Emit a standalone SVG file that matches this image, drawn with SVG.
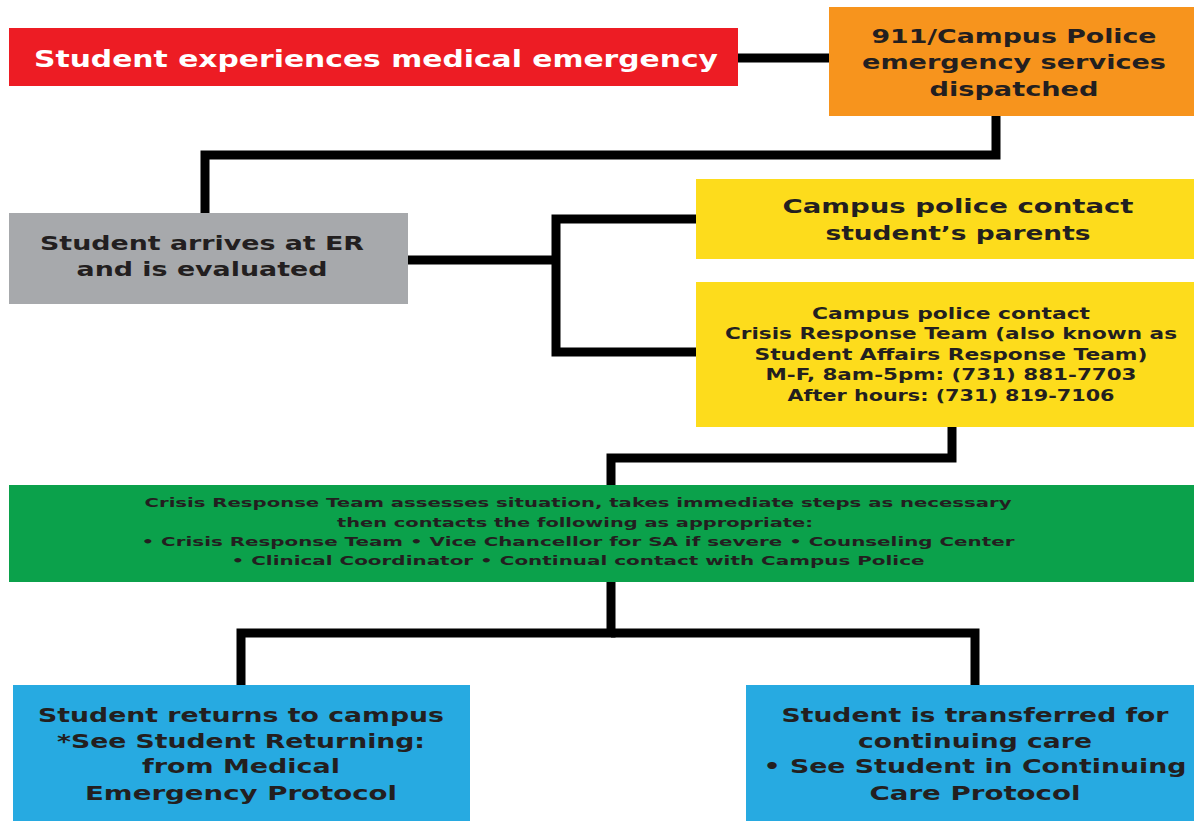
<svg xmlns="http://www.w3.org/2000/svg" width="1194" height="821" viewBox="0 0 1194 821">
<style>
.t{font-family:"DejaVu Sans","Liberation Sans",sans-serif;font-weight:bold;fill:#231F20;text-anchor:middle}
.w{fill:#FFFFFF}
.c{fill:none;stroke:#000;stroke-width:9;stroke-linejoin:miter;stroke-linecap:butt}
</style>
<rect width="1194" height="821" fill="#FFFFFF"/>
<g id="connectors">
<path class="c" d="M738,58 H829"/>
<path class="c" d="M996,116 V155 H205 V213"/>
<path class="c" d="M408,260 H556"/>
<path class="c" d="M696,219 H556 V352 H696"/>
<path class="c" d="M952,427 V458 H611 V485"/>
<path class="c" d="M611,582 V633 H241 V685"/>
<path class="c" d="M611,633 H975 V685"/>
</g>
<g id="node-emergency">
<rect x="9" y="28" width="729" height="58" fill="#ED1C24"/>
<text class="t w" x="376" y="67" font-size="23" textLength="684" lengthAdjust="spacingAndGlyphs">Student experiences medical emergency</text>
</g>
<g id="node-dispatch">
<rect x="829" y="7" width="365" height="109" fill="#F7941D"/>
<text class="t" x="1014" y="43" font-size="20" textLength="285" lengthAdjust="spacingAndGlyphs">911/Campus Police</text>
<text class="t" x="1014" y="69" font-size="20" textLength="304" lengthAdjust="spacingAndGlyphs">emergency services</text>
<text class="t" x="1014" y="96" font-size="20" textLength="169" lengthAdjust="spacingAndGlyphs">dispatched</text>
</g>
<g id="node-er">
<rect x="9" y="213" width="399" height="91" fill="#A7A9AC"/>
<text class="t" x="202" y="250" font-size="20" textLength="324" lengthAdjust="spacingAndGlyphs">Student arrives at ER</text>
<text class="t" x="202" y="276" font-size="20" textLength="251" lengthAdjust="spacingAndGlyphs">and is evaluated</text>
</g>
<g id="node-parents">
<rect x="696" y="179" width="498" height="80" fill="#FDDC1C"/>
<text class="t" x="958" y="213" font-size="20" textLength="351" lengthAdjust="spacingAndGlyphs">Campus police contact</text>
<text class="t" x="958" y="240" font-size="20" textLength="265" lengthAdjust="spacingAndGlyphs">student’s parents</text>
</g>
<g id="node-crisis-contact">
<rect x="696" y="282" width="498" height="145" fill="#FDDC1C"/>
<text class="t" x="951" y="319" font-size="15" textLength="278" lengthAdjust="spacingAndGlyphs">Campus police contact</text>
<text class="t" x="951" y="339" font-size="15" textLength="452" lengthAdjust="spacingAndGlyphs">Crisis Response Team (also known as</text>
<text class="t" x="951" y="360" font-size="15" textLength="393" lengthAdjust="spacingAndGlyphs">Student Affairs Response Team)</text>
<text class="t" x="951" y="380" font-size="15" textLength="371" lengthAdjust="spacingAndGlyphs">M-F, 8am-5pm: (731) 881-7703</text>
<text class="t" x="951" y="401" font-size="15" textLength="327" lengthAdjust="spacingAndGlyphs">After hours: (731) 819-7106</text>
</g>
<g id="node-assess">
<rect x="9" y="485" width="1185" height="97" fill="#0BA14B"/>
<text class="t" x="578" y="507" font-size="13" textLength="867" lengthAdjust="spacingAndGlyphs">Crisis Response Team assesses situation, takes immediate steps as necessary</text>
<text class="t" x="575" y="527" font-size="13" textLength="476" lengthAdjust="spacingAndGlyphs">then contacts the following as appropriate:</text>
<text class="t" x="578" y="546" font-size="13" textLength="873" lengthAdjust="spacingAndGlyphs">• Crisis Response Team • Vice Chancellor for SA if severe • Counseling Center</text>
<text class="t" x="578" y="565" font-size="13" textLength="693" lengthAdjust="spacingAndGlyphs">• Clinical Coordinator • Continual contact with Campus Police</text>
</g>
<g id="node-returns">
<rect x="13" y="685" width="457" height="136" fill="#27AAE1"/>
<text class="t" x="241" y="722" font-size="20" textLength="406" lengthAdjust="spacingAndGlyphs">Student returns to campus</text>
<text class="t" x="241" y="748" font-size="20" textLength="368" lengthAdjust="spacingAndGlyphs">*See Student Returning:</text>
<text class="t" x="241" y="773" font-size="20" textLength="198" lengthAdjust="spacingAndGlyphs">from Medical</text>
<text class="t" x="241" y="800" font-size="20" textLength="312" lengthAdjust="spacingAndGlyphs">Emergency Protocol</text>
</g>
<g id="node-transferred">
<rect x="746" y="685" width="448" height="136" fill="#27AAE1"/>
<text class="t" x="975" y="722" font-size="20" textLength="387" lengthAdjust="spacingAndGlyphs">Student is transferred for</text>
<text class="t" x="975" y="748" font-size="20" textLength="234" lengthAdjust="spacingAndGlyphs">continuing care</text>
<text class="t" x="975" y="773" font-size="20" textLength="423" lengthAdjust="spacingAndGlyphs">• See Student in Continuing</text>
<text class="t" x="975" y="800" font-size="20" textLength="211" lengthAdjust="spacingAndGlyphs">Care Protocol</text>
</g>
</svg>
